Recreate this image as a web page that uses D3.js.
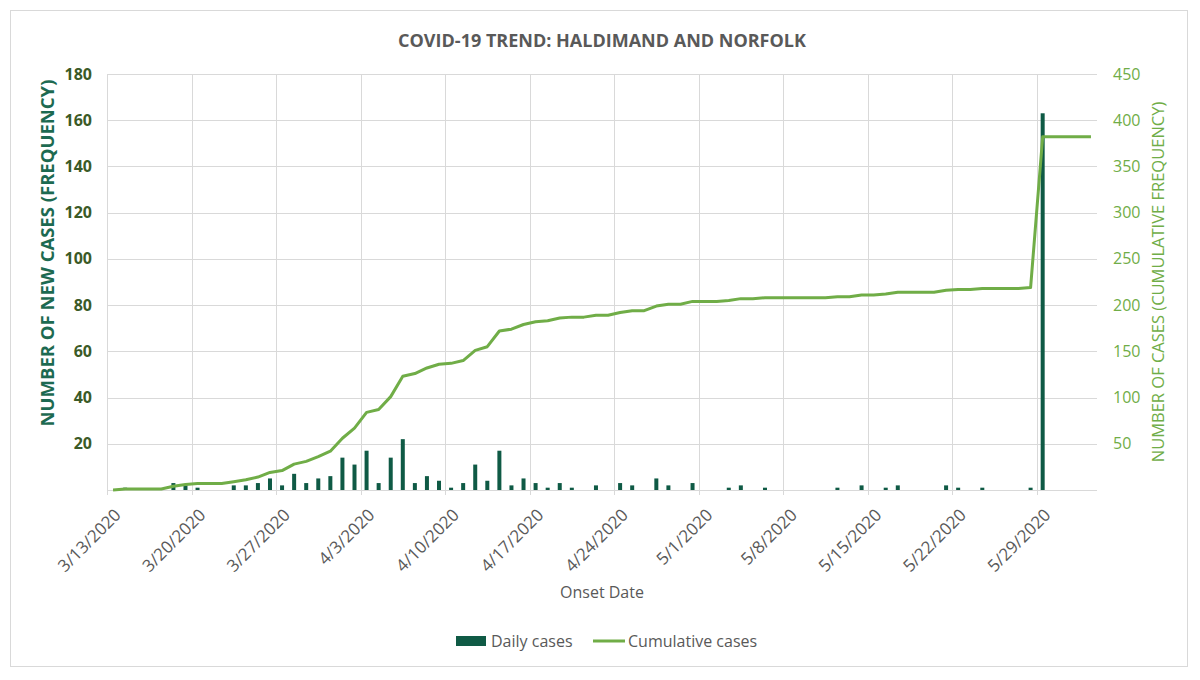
<!DOCTYPE html>
<html>
<head>
<meta charset="utf-8">
<script src="https://cdn.jsdelivr.net/npm/d3@7"></script>
<style>
  body { margin: 0; background: #fff; }
  svg { display: block; }
</style>
</head>
<body>
<svg id="chart" width="1200" height="680"></svg>
<script>
// onset dates, one category per day (3/13/2020 .. 6/2/2020)
var firstDay = new Date(2020, 2, 13)
var lastDay = new Date(2020, 5, 2)

// daily new cases
var dailyCases = [
  0, 1, 0, 0, 0, 3, 2, 1, 0, 0, 2, 2, 3, 5, 2, 7, 3, 5, 6,          // 3/13 - 3/31
  14, 11, 17, 3, 14, 22, 3, 6, 4, 1, 3, 11, 4, 17, 2, 5, 3, 1, 3, 1, // 4/1 - 4/20
  0, 2, 0, 3, 2, 0, 5, 2, 0, 3,                                      // 4/21 - 4/30
  0, 0, 1, 2, 0, 1, 0, 0, 0, 0, 0, 1, 0, 2, 0, 1, 2, 0, 0, 0,       // 5/1 - 5/20
  2, 1, 0, 1, 0, 0, 0, 1, 163, 0, 0,                                 // 5/21 - 5/31
  0, 0                                                               // 6/1 - 6/2
]

// cumulative cases
var cumulativeCases = [
  0, 1, 1, 1, 1, 4, 6, 7, 7, 7, 9, 11, 14, 19, 21, 28, 31, 36, 42,
  56, 67, 84, 87, 101, 123, 126, 132, 136, 137, 140, 151, 155, 172, 174, 179, 182, 183, 186, 187,
  187, 189, 189, 192, 194, 194, 199, 201, 201, 204,
  204, 204, 205, 207, 207, 208, 208, 208, 208, 208, 208, 209, 209, 211, 211, 212, 214, 214, 214, 214,
  216, 217, 217, 218, 218, 218, 218, 219, 382, 382, 382,
  382, 382
]

var dateTickLabels = ['3/13/2020', '3/20/2020', '3/27/2020', '4/3/2020', '4/10/2020', '4/17/2020',
  '4/24/2020', '5/1/2020', '5/8/2020', '5/15/2020', '5/22/2020', '5/29/2020']
var leftTicks = [20, 40, 60, 80, 100, 120, 140, 160, 180]
var rightTicks = [50, 100, 150, 200, 250, 300, 350, 400, 450]

//#region Parameters
var plot = { left: 107, right: 1097, top: 74, bottom: 490 }
var bar_color = '#0f5a45'
var line_color = '#70ad47'
var grid_color = '#d9d9d9'
var text_gray = '#595959'
var left_tick_color = '#3b5a27'
var left_title_color = '#1d6a51'
var font = "'Open Sans', 'Liberation Sans', sans-serif"
var bar_width = 4
//#endregion

var days = d3.timeDay.range(firstDay, d3.timeDay.offset(lastDay, 1))
var fmt = d3.timeFormat('%-m/%-d/%Y')
var rows = days.map((d, i) => ({ label: fmt(d), daily: dailyCases[i], cum: cumulativeCases[i] }))

var svg = d3.select('#chart')

svg.append('rect')
  .attr('x', 10.5).attr('y', 10.5)
  .attr('width', 1177).attr('height', 656)
  .attr('fill', '#fff')
  .attr('stroke', grid_color)

var x = d3.scaleBand()
  .domain(rows.map(d => d.label))
  .range([plot.left, plot.right])

var yLeft = d3.scaleLinear().domain([0, 180]).range([plot.bottom, plot.top])
var yRight = d3.scaleLinear().domain([0, 450]).range([plot.bottom, plot.top])

// horizontal grid
svg.append('g')
  .selectAll('line')
  .data(leftTicks)
  .enter()
  .append('line')
  .attr('x1', plot.left).attr('x2', plot.right)
  .attr('y1', d => Math.round(yLeft(d)) + 0.5)
  .attr('y2', d => Math.round(yLeft(d)) + 0.5)
  .attr('stroke', grid_color)
  .attr('stroke-width', 1)

// vertical grid + tick marks, one per week
svg.append('g')
  .selectAll('line')
  .data(dateTickLabels)
  .enter()
  .append('line')
  .attr('x1', d => Math.round(x(d)) + 0.5)
  .attr('x2', d => Math.round(x(d)) + 0.5)
  .attr('y1', plot.top)
  .attr('y2', plot.bottom + 5)
  .attr('stroke', grid_color)
  .attr('stroke-width', 1)

// x axis base line
svg.append('line')
  .attr('x1', plot.left).attr('x2', plot.right)
  .attr('y1', plot.bottom + 0.5).attr('y2', plot.bottom + 0.5)
  .attr('stroke', grid_color)

// daily bars
svg.append('g')
  .selectAll('rect')
  .data(rows.filter(d => d.daily > 0))
  .enter()
  .append('rect')
  .attr('x', d => x(d.label) + x.bandwidth() / 2 - bar_width / 2)
  .attr('y', d => yLeft(d.daily))
  .attr('width', bar_width)
  .attr('height', d => yLeft(0) - yLeft(d.daily))
  .attr('fill', bar_color)

// cumulative line
var line = d3.line()
  .x(d => x(d.label) + x.bandwidth() / 2)
  .y(d => yRight(d.cum))

svg.append('path')
  .datum(rows)
  .attr('d', line)
  .attr('fill', 'none')
  .attr('stroke', line_color)
  .attr('stroke-width', 3)
  .attr('stroke-linejoin', 'round')

// left axis labels
svg.append('g')
  .selectAll('text')
  .data(leftTicks)
  .enter()
  .append('text')
  .attr('x', 92)
  .attr('y', d => yLeft(d) + 5.5)
  .attr('text-anchor', 'end')
  .text(d => d)
  .attr('fill', left_tick_color)
  .style('font-family', font)
  .style('font-weight', 'bold')
  .style('font-size', '16px')

// right axis labels
svg.append('g')
  .selectAll('text')
  .data(rightTicks)
  .enter()
  .append('text')
  .attr('x', 1113)
  .attr('y', d => yRight(d) + 5.5)
  .text(d => d)
  .attr('fill', line_color)
  .style('font-family', font)
  .style('font-size', '16px')

// date labels, rotated
svg.append('g')
  .selectAll('text')
  .data(dateTickLabels)
  .enter()
  .append('text')
  .attr('transform', d => `translate(${x(d) + 15},${plot.bottom + 26}) rotate(-45)`)
  .attr('text-anchor', 'end')
  .text(d => d)
  .attr('fill', text_gray)
  .style('font-family', font)
  .style('font-size', '17px')

// titles
svg.append('text')
  .attr('x', 602).attr('y', 47)
  .attr('text-anchor', 'middle')
  .text('COVID-19 TREND: HALDIMAND AND NORFOLK')
  .attr('fill', text_gray)
  .style('font-family', font)
  .style('font-weight', 'bold')
  .style('font-size', '18px')

svg.append('text')
  .attr('x', 602).attr('y', 598)
  .attr('text-anchor', 'middle')
  .text('Onset Date')
  .attr('fill', text_gray)
  .style('font-family', font)
  .style('font-size', '16px')

svg.append('text')
  .attr('transform', 'translate(48,253) rotate(-90)')
  .attr('text-anchor', 'middle')
  .attr('dy', '0.35em')
  .text('NUMBER OF NEW CASES (FREQUENCY)')
  .attr('fill', left_title_color)
  .style('font-family', font)
  .style('font-weight', 'bold')
  .style('font-size', '18.5px')

svg.append('text')
  .attr('transform', 'translate(1158,282) rotate(-90)')
  .attr('text-anchor', 'middle')
  .attr('dy', '0.35em')
  .text('NUMBER OF CASES (CUMULATIVE FREQUENCY)')
  .attr('fill', line_color)
  .style('font-family', font)
  .style('font-size', '16.5px')

// legend
var legend = svg.append('g')
legend.append('rect')
  .attr('x', 456).attr('y', 636)
  .attr('width', 30).attr('height', 10)
  .attr('fill', bar_color)
legend.append('text')
  .attr('x', 491).attr('y', 647)
  .text('Daily cases')
  .attr('fill', text_gray)
  .style('font-family', font)
  .style('font-size', '16px')
legend.append('line')
  .attr('x1', 593).attr('x2', 625)
  .attr('y1', 641).attr('y2', 641)
  .attr('stroke', line_color)
  .attr('stroke-width', 3)
legend.append('text')
  .attr('x', 628).attr('y', 647)
  .text('Cumulative cases')
  .attr('fill', text_gray)
  .style('font-family', font)
  .style('font-size', '16px')
</script>
</body>
</html>
